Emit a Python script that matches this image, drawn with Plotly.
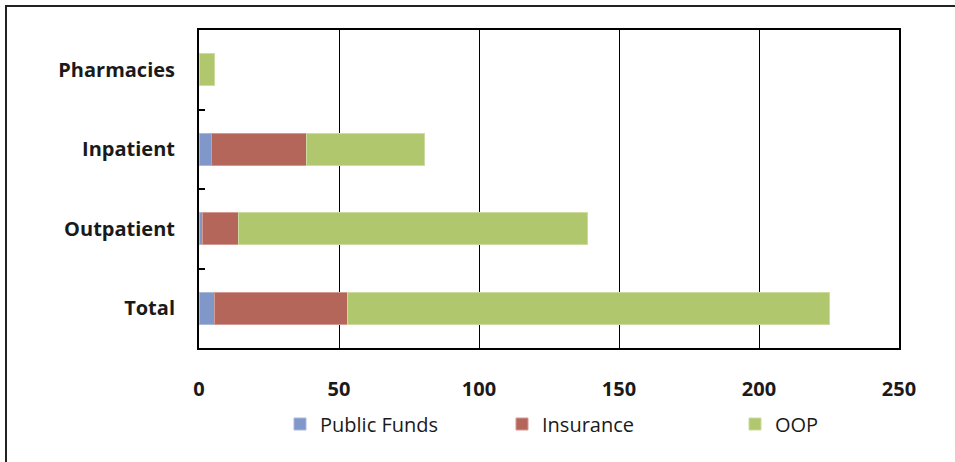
import plotly.graph_objects as go

categories = ["Total", "Outpatient", "Inpatient", "Pharmacies"]
public_funds = [5.6, 1.1, 4.3, 0]
insurance = [47.3, 13.1, 34.0, 0]
oop = [172.3, 124.4, 42.4, 5.7]
x_ticks = [0, 50, 100, 150, 200, 250]
series_names = ["Public Funds", "Insurance", "OOP"]

colors = {"Public Funds": "#7F98C9", "Insurance": "#B5665A", "OOP": "#B0C76E"}
edges = {"Public Funds": "#A9BADB", "Insurance": "#D39A92", "OOP": "#CCDBA0"}

W, H = 955, 462
L, R, T, B = 199, 56, 30, 114
pw, ph = W - L - R, H - T - B
FONT = "Open Sans, Noto Sans, sans-serif"

fig = go.Figure()
legend_ids = ["legend", "legend2", "legend3"]
for lid, name, vals in zip(legend_ids, series_names, [public_funds, insurance, oop]):
    fig.add_trace(go.Bar(
        y=categories, x=vals, name=name, orientation="h",
        marker=dict(color=colors[name], line=dict(color=edges[name], width=1)),
        legend=lid,
    ))

legend_px = [280, 502, 735]
legend_y = (T + ph - 424) / ph


def leg(px):
    return dict(
        orientation="h", x=(px - L) / pw, xanchor="left",
        y=legend_y, yanchor="middle",
        font=dict(size=20, family=FONT, color="#1a1a1a"),
        itemwidth=30, bgcolor="rgba(0,0,0,0)",
    )


fig.update_layout(
    width=W, height=H,
    margin=dict(l=L, r=R, t=T, b=B, autoexpand=False),
    barmode="stack", bargap=0.6,
    plot_bgcolor="white", paper_bgcolor="white",
    font=dict(family=FONT, color="#1a1a1a"),
    showlegend=True,
    legend=leg(legend_px[0]),
    legend2=leg(legend_px[1]),
    legend3=leg(legend_px[2]),
    xaxis=dict(
        range=[0, 250], tickvals=x_ticks, ticktext=[str(v) for v in x_ticks],
        showgrid=True, gridcolor="black", gridwidth=1.3,
        zeroline=False, showline=True, linecolor="black", linewidth=2, mirror=True,
        ticks="", ticklabelstandoff=22,
        tickfont=dict(size=20, family=FONT, weight="bold"),
        fixedrange=True, automargin=False,
    ),
    yaxis=dict(
        categoryorder="array", categoryarray=categories,
        showline=True, linecolor="black", linewidth=2, mirror=True,
        ticks="inside", ticklen=6, tickcolor="black", tickwidth=2, tickson="boundaries",
        ticklabelstandoff=18, showgrid=False,
        tickfont=dict(size=20, family=FONT, weight="bold"),
        fixedrange=True, automargin=False,
    ),
    shapes=[dict(
        type="rect", xref="paper", yref="paper",
        x0=(6 - L) / pw, x1=(962 - L) / pw,
        y0=(T + ph - 470) / ph, y1=(T + ph - 6) / ph,
        line=dict(color="#222", width=2), layer="below",
    )],
)

fig.write_html("out.html", config={"displayModeBar": False},
               post_script="document.body.style.margin='0';")
